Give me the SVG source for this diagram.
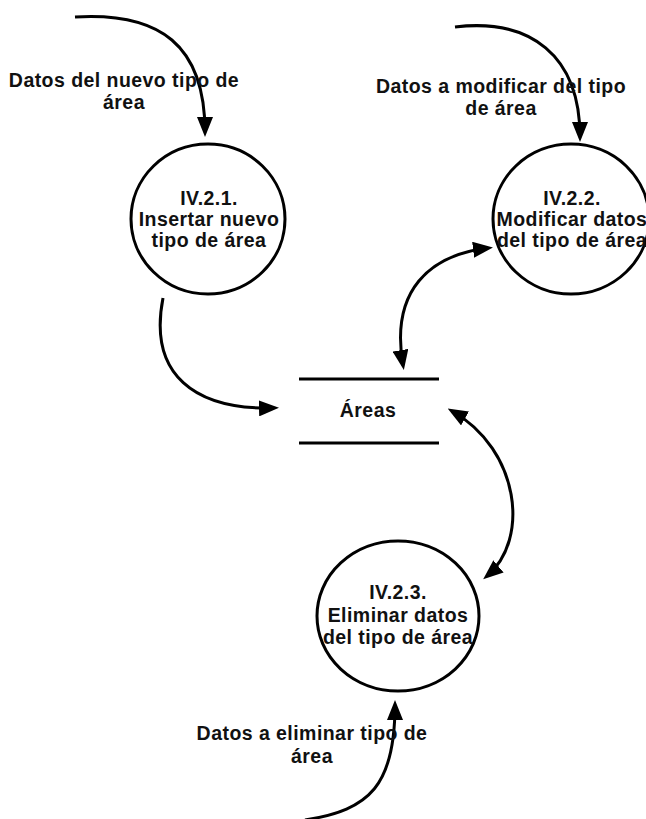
<svg xmlns="http://www.w3.org/2000/svg" width="646" height="819" viewBox="0 0 646 819">
  <style>
    .proc { fill: #ffffff; stroke: #000000; stroke-width: 3; }
    .txt { font-family: "Liberation Sans", Arial, sans-serif; font-weight: bold; font-size: 19.5px; letter-spacing: 0.45px; fill: #111111; text-anchor: middle; }
    .flow { fill: none; stroke: #000000; stroke-width: 3; stroke-linecap: butt; }
    .store { stroke: #000000; stroke-width: 3; }
    .one { marker-end: url(#head); }
    .two { marker-start: url(#head); marker-end: url(#head); }
  </style>
  <defs>
    <marker id="head" markerUnits="userSpaceOnUse" viewBox="0 0 20 16" markerWidth="20" markerHeight="16" refX="15" refY="8" orient="auto-start-reverse">
      <path d="M0,0 L20,8 L0,16 Z" fill="#000000"/>
    </marker>
  </defs>

  <rect width="646" height="819" fill="#ffffff"/>

  <!-- processes -->
  <g id="p-insertar">
    <ellipse class="proc" cx="208" cy="219" rx="77" ry="75"/>
    <text class="txt" x="209" y="205">IV.2.1.</text>
    <text class="txt" x="209" y="226">Insertar nuevo</text>
    <text class="txt" x="209" y="247">tipo de área</text>
  </g>

  <g id="p-modificar">
    <ellipse class="proc" cx="571" cy="219" rx="78" ry="75"/>
    <text class="txt" x="572" y="205">IV.2.2.</text>
    <text class="txt" x="572" y="226">Modificar datos</text>
    <text class="txt" x="572" y="247">del tipo de área</text>
  </g>

  <g id="p-eliminar">
    <ellipse class="proc" cx="398" cy="616" rx="81" ry="75"/>
    <text class="txt" x="398" y="599">IV.2.3.</text>
    <text class="txt" x="398" y="622">Eliminar datos</text>
    <text class="txt" x="398" y="644">del tipo de área</text>
  </g>

  <!-- data store -->
  <g id="s-areas">
    <line class="store" x1="299" y1="379" x2="439" y2="379"/>
    <line class="store" x1="299" y1="443" x2="439" y2="443"/>
    <text class="txt" x="368" y="417">Áreas</text>
  </g>

  <!-- data flows -->
  <g id="flows">
    <path class="flow one" d="M75,17 C160,12 205,45 205,132"/>
    <path class="flow one" d="M455,27 C530,18 580,55 580,137"/>
    <path class="flow one" d="M163,298 C148,375 195,410 274,408"/>
    <path class="flow two" d="M488,248 C430,255 390,290 403,365"/>
    <path class="flow two" d="M452,411 C520,450 530,540 487,576"/>
    <path class="flow one" d="M305,820 C370,810 395,785 395,705"/>
  </g>

  <!-- flow labels -->
  <g id="labels">
    <text class="txt" x="124" y="87">Datos del nuevo tipo de</text>
    <text class="txt" x="124" y="109">área</text>
    <text class="txt" x="501" y="93">Datos a modificar del tipo</text>
    <text class="txt" x="501" y="115">de área</text>
    <text class="txt" x="312" y="740">Datos a eliminar tipo de</text>
    <text class="txt" x="312" y="763">área</text>
  </g>
</svg>
